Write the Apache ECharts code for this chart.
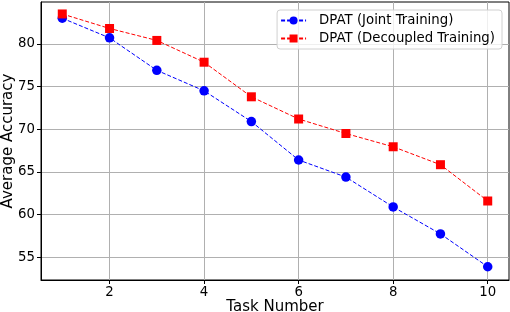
<!DOCTYPE html>
<html><head><meta charset="utf-8">
<script src="https://cdn.jsdelivr.net/npm/echarts@6/dist/echarts.min.js"></script>
<style>html,body{margin:0;padding:0;background:#fff}#c{width:510px;height:312px}</style>
</head><body><div id="c"></div>
<script>
const tasks = [1,2,3,4,5,6,7,8,9,10];
const jointTraining = [83.0,80.7,76.9,74.5,70.9,66.4,64.4,60.9,57.75,53.9];
const decoupledTraining = [83.5,81.8,80.4,77.85,73.8,71.2,69.5,67.95,65.85,61.6];
const xTicks = [2,4,6,8,10];
const yTicks = [55,60,65,70,75,80];
const seriesNames = ['DPAT (Joint Training)','DPAT (Decoupled Training)'];

const font = 'DejaVu Sans';
const chart = echarts.init(document.getElementById('c'), null, {renderer:'canvas'});
chart.setOption({
  animation:false,
  backgroundColor:'#fff',
  grid:{left:41,right:1,top:2,bottom:32,show:true,borderColor:'#000',borderWidth:1,backgroundColor:'transparent',
        containLabel:false, outerBoundsMode:'none'},
  legend:{
    right:8, top:10, orient:'vertical', itemGap:5, itemWidth:25, itemHeight:10,
    padding:[4,7,4,3], borderColor:'#d0d0d0', borderWidth:1, borderRadius:3,
    backgroundColor:'rgba(255,255,255,0.8)',
    textStyle:{fontFamily:font,fontSize:13.3,color:'#000',padding:[0,0,0,8]},
    data:seriesNames
  },
  xAxis:{
    type:'value', min:0.55, max:10.45,
    name:'Task Number', nameLocation:'middle', nameGap:20, nameMoveOverlap:false,
    nameTextStyle:{fontFamily:font,fontSize:15,color:'#000'},
    axisLine:{show:true,onZero:false,lineStyle:{color:'#000',width:1}},
    axisTick:{show:true,length:4,inside:false,customValues:xTicks,lineStyle:{color:'#000'}},
    axisLabel:{customValues:xTicks,fontFamily:font,fontSize:13.3,color:'#000',margin:6},
    splitLine:{show:true,lineStyle:{color:'#b0b0b0',width:1}}
  },
  yAxis:{
    type:'value', min:52.35, max:84.9,
    name:'Average Accuracy', nameLocation:'middle', nameGap:25.5, nameMoveOverlap:false,
    nameTextStyle:{fontFamily:font,fontSize:15,color:'#000'},
    axisLine:{show:true,onZero:false,lineStyle:{color:'#000',width:1}},
    axisTick:{show:true,length:4,inside:false,customValues:yTicks,lineStyle:{color:'#000'}},
    axisLabel:{customValues:yTicks,fontFamily:font,fontSize:13.3,color:'#000',margin:6},
    splitLine:{show:true,lineStyle:{color:'#b0b0b0',width:1}}
  },
  series:[
    {name:seriesNames[0],type:'line',data:tasks.map((t,i)=>[t,jointTraining[i]]),
     symbol:'circle',symbolSize:9.5,itemStyle:{color:'#0000ff'},
     lineStyle:{color:'#0000ff',width:1,type:[4,2]}},
    {name:seriesNames[1],type:'line',data:tasks.map((t,i)=>[t,decoupledTraining[i]]),
     symbol:'rect',symbolSize:9,itemStyle:{color:'#ff0000'},
     lineStyle:{color:'#ff0000',width:1,type:[4,2]}}
  ]
});
</script></body></html>
